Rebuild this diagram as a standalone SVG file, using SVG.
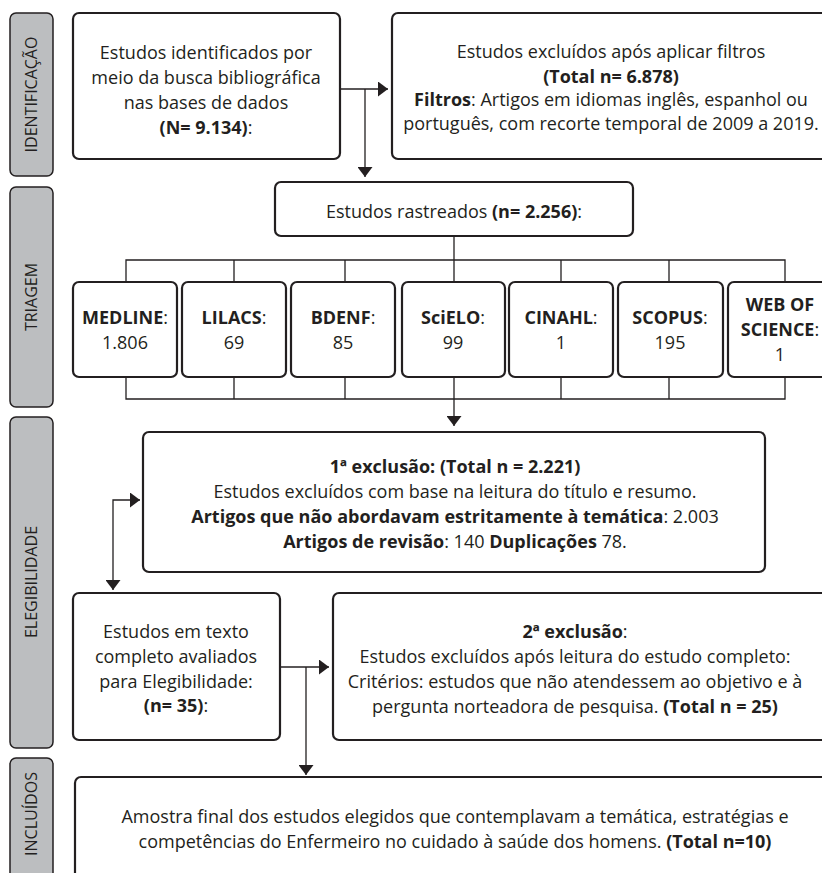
<svg xmlns="http://www.w3.org/2000/svg" width="822" height="873" viewBox="0 0 822 873">
<style>
.bg{fill:#ffffff}
.side{fill:#bcbec0;stroke:#231f20;stroke-width:1.5}
.box{fill:#ffffff;stroke:#231f20;stroke-width:2.2}
.lab{font-family:"Open Sans","Liberation Sans",sans-serif;font-size:16px;fill:#231f20;text-anchor:middle}
.t{font-family:"Open Sans","Liberation Sans",sans-serif;font-size:18px;fill:#231f20;text-anchor:middle}
.b{font-weight:bold}
.con{fill:none;stroke:#231f20;stroke-width:1.3}
</style>
<defs>
<marker id="arr" viewBox="0 0 10 15" refX="10" refY="7.5" markerWidth="10" markerHeight="15" markerUnits="userSpaceOnUse" orient="auto-start-reverse">
<path d="M0,0 L10,7.5 L0,15 Z" fill="#231f20"/>
</marker>
</defs>
<rect class="bg" x="0" y="0" width="822" height="873"/>

<g id="side-identificacao"><rect class="side" x="10" y="13" width="43" height="163" rx="6"/><text class="lab" transform="translate(37,94.5) rotate(-90)">IDENTIFICAÇÃO</text></g>
<g id="side-triagem"><rect class="side" x="10" y="187" width="43" height="220" rx="6"/><text class="lab" transform="translate(37,297) rotate(-90)">TRIAGEM</text></g>
<g id="side-elegibilidade"><rect class="side" x="10" y="417" width="43" height="331" rx="6"/><text class="lab" transform="translate(37,582) rotate(-90)">ELEGIBILIDADE</text></g>
<g id="side-incluidos"><rect class="side" x="10" y="758" width="43" height="130" rx="6"/><text class="lab" transform="translate(37,814) rotate(-90)">INCLUÍDOS</text></g>

<g id="connectors">
<path class="con" d="M340,89 H388" marker-end="url(#arr)"/>
<path class="con" d="M365,89 V177" marker-end="url(#arr)"/>
<path class="con" d="M454,236 V260"/>
<path class="con" d="M126,282 V260 H785 V282 M234,260 V282 M345,260 V282 M454,260 V282 M561,260 V282 M669,260 V282"/>
<path class="con" d="M126,377 V399 H785 V377 M234,377 V399 M345,377 V399 M454,377 V399 M561,377 V399 M669,377 V399"/>
<path class="con" d="M454,399 V426" marker-end="url(#arr)"/>
<path class="con" d="M140,500 H113 V590" marker-start="url(#arr)" marker-end="url(#arr)"/>
<path class="con" d="M280,667 H329" marker-end="url(#arr)"/>
<path class="con" d="M306,667 V775" marker-end="url(#arr)"/>
</g>

<g id="identificados"><rect class="box" x="73" y="13" width="267" height="146" rx="6"/>
<text class="t" x="206" y="59">Estudos identificados por</text>
<text class="t" x="206" y="84">meio da busca bibliográfica</text>
<text class="t" x="206" y="109">nas bases de dados</text>
<text class="t" x="206" y="134"><tspan class="b">(N= 9.134)</tspan>:</text></g>

<g id="excluidos-filtros"><rect class="box" x="392" y="13" width="440" height="146" rx="6"/>
<text class="t" x="611" y="58">Estudos excluídos após aplicar filtros</text>
<text class="t b" x="611" y="83">(Total n= 6.878)</text>
<text class="t" x="611" y="106"><tspan class="b">Filtros</tspan>: Artigos em idiomas inglês, espanhol ou</text>
<text class="t" x="611" y="130">português, com recorte temporal de 2009 a 2019.</text></g>

<g id="rastreados"><rect class="box" x="275" y="182" width="358" height="54" rx="6"/>
<text class="t" x="454" y="218">Estudos rastreados <tspan class="b">(n= 2.256)</tspan>:</text></g>

<g id="medline"><rect class="box" x="73" y="282" width="104" height="95" rx="6"/>
<text class="t" x="125" y="324"><tspan class="b">MEDLINE</tspan>:</text><text class="t" x="125" y="349">1.806</text></g>
<g id="lilacs"><rect class="box" x="182" y="282" width="104" height="95" rx="6"/>
<text class="t" x="234" y="324"><tspan class="b">LILACS</tspan>:</text><text class="t" x="234" y="349">69</text></g>
<g id="bdenf"><rect class="box" x="291" y="282" width="104" height="95" rx="6"/>
<text class="t" x="343" y="324"><tspan class="b">BDENF</tspan>:</text><text class="t" x="343" y="349">85</text></g>
<g id="scielo"><rect class="box" x="402" y="282" width="103" height="95" rx="6"/>
<text class="t" x="453" y="324"><tspan class="b">SciELO</tspan>:</text><text class="t" x="453" y="349">99</text></g>
<g id="cinahl"><rect class="box" x="509" y="282" width="104" height="95" rx="6"/>
<text class="t" x="561" y="324"><tspan class="b">CINAHL</tspan>:</text><text class="t" x="561" y="349">1</text></g>
<g id="scopus"><rect class="box" x="618" y="282" width="105" height="95" rx="6"/>
<text class="t" x="670" y="324"><tspan class="b">SCOPUS</tspan>:</text><text class="t" x="670" y="349">195</text></g>
<g id="webofscience"><rect class="box" x="728" y="282" width="110" height="95" rx="6"/>
<text class="t b" x="780" y="311">WEB OF</text><text class="t" x="780" y="336"><tspan class="b">SCIENCE</tspan>:</text><text class="t" x="780" y="361">1</text></g>

<g id="exclusao1"><rect class="box" x="143" y="432" width="622" height="140" rx="6"/>
<text class="t b" x="455" y="473">1ª exclusão: (Total n = 2.221)</text>
<text class="t" x="455" y="498">Estudos excluídos com base na leitura do título e resumo.</text>
<text class="t" x="455" y="523"><tspan class="b">Artigos que não abordavam estritamente à temática</tspan>: 2.003</text>
<text class="t" x="455" y="548"><tspan class="b">Artigos de revisão</tspan>: 140 <tspan class="b">Duplicações</tspan> 78.</text></g>

<g id="texto-completo"><rect class="box" x="73" y="593" width="207" height="147" rx="6"/>
<text class="t" x="176" y="638">Estudos em texto</text>
<text class="t" x="176" y="663">completo avaliados</text>
<text class="t" x="176" y="688">para Elegibilidade:</text>
<text class="t" x="176" y="712"><tspan class="b">(n= 35)</tspan>:</text></g>

<g id="exclusao2"><rect class="box" x="333" y="593" width="499" height="147" rx="6"/>
<text class="t" x="575" y="638"><tspan class="b">2ª exclusão</tspan>:</text>
<text class="t" x="575" y="663">Estudos excluídos após leitura do estudo completo:</text>
<text class="t" x="575" y="688">Critérios: estudos que não atendessem ao objetivo e à</text>
<text class="t" x="575" y="713">pergunta norteadora de pesquisa. <tspan class="b">(Total n = 25)</tspan></text></g>

<g id="amostra-final"><rect class="box" x="75" y="777" width="757" height="110" rx="6"/>
<text class="t" x="455" y="823">Amostra final dos estudos elegidos que contemplavam a temática, estratégias e</text>
<text class="t" x="455" y="848">competências do Enfermeiro no cuidado à saúde dos homens. <tspan class="b">(Total n=10)</tspan></text></g>
</svg>
